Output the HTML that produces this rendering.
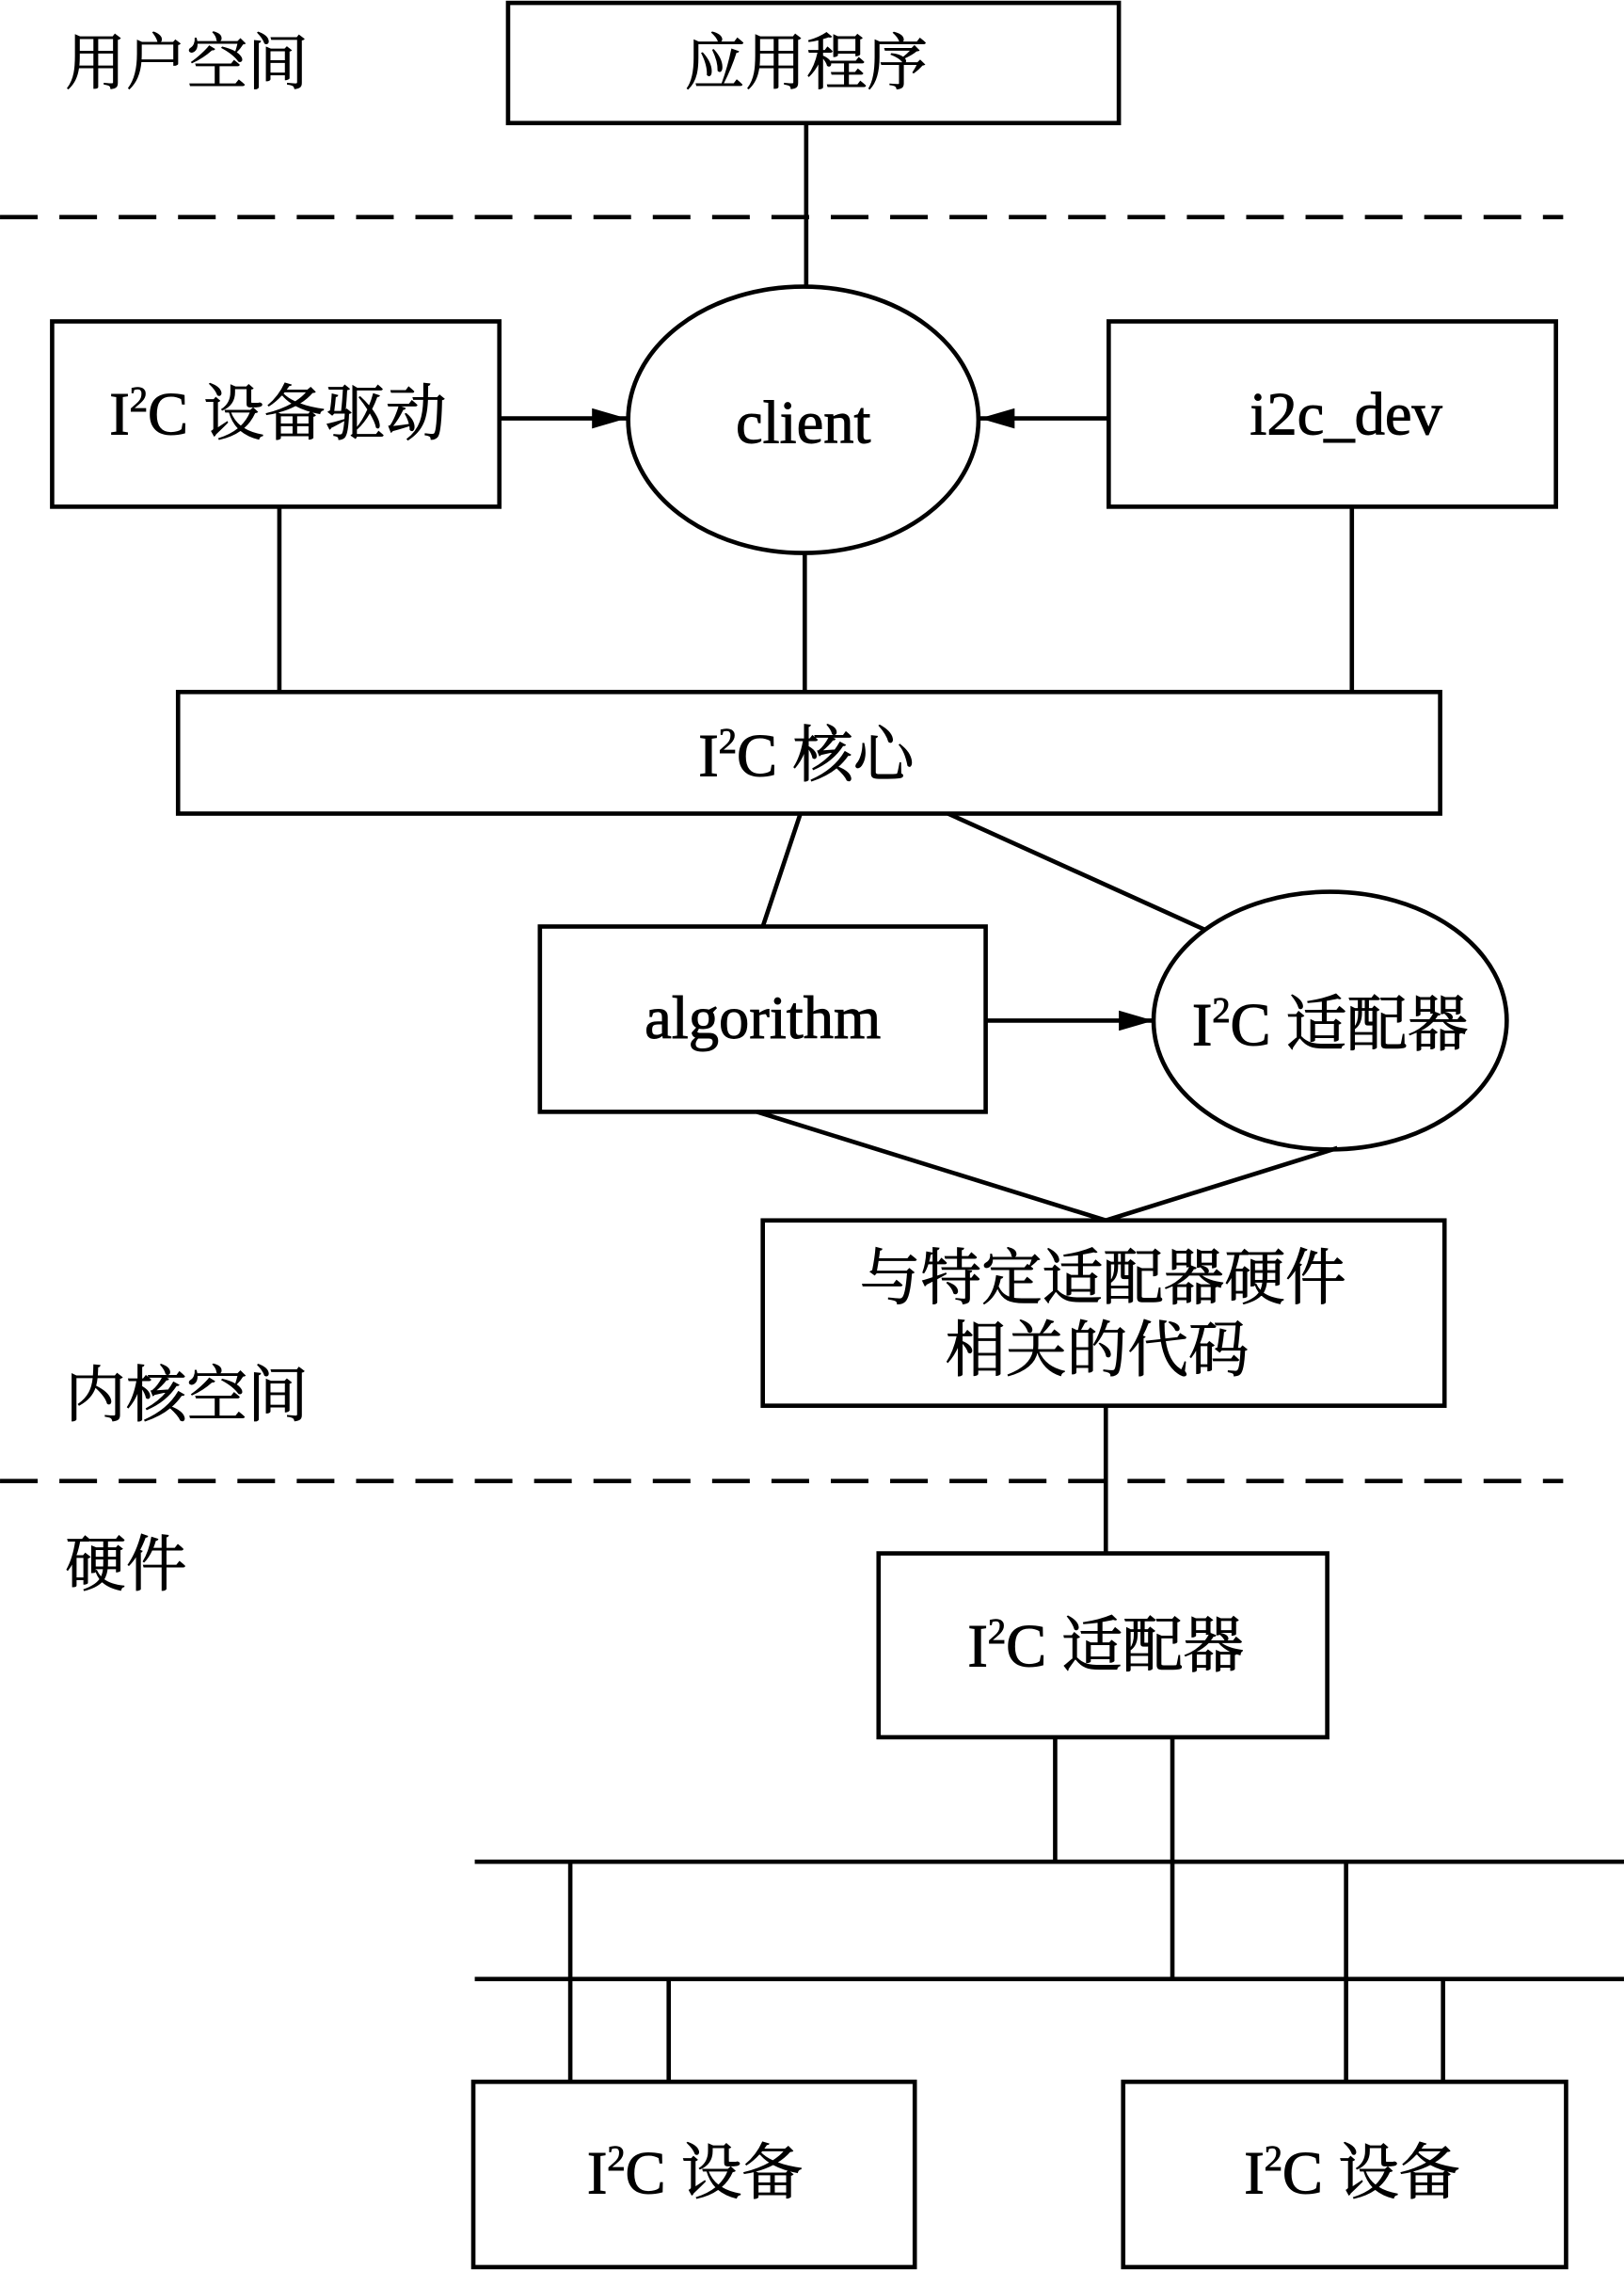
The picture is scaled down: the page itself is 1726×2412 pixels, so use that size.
<!DOCTYPE html>
<html><head><meta charset="utf-8"><style>
html,body{margin:0;padding:0;background:#fff;}
svg{display:block;}
text{font-family:"Liberation Serif","Noto Serif CJK SC",serif;font-size:42px;fill:#000;stroke:#000;stroke-width:0.6px;}
.s{font-size:25px;}
</style></head><body>
<svg width="1726" height="2412" viewBox="0 0 1122 1568" xmlns="http://www.w3.org/2000/svg">
<defs>
<marker id="b" viewBox="0 0 24 14" markerWidth="24" markerHeight="14" refX="24" refY="7" orient="auto" markerUnits="userSpaceOnUse"><path d="M0,0 L24,7 L0,14 z"/></marker></defs>
<g fill="none" stroke="#000" stroke-width="3">
<rect x="351" y="2" width="422" height="83"/>
<line x1="0" y1="150" x2="1080" y2="150" stroke-dasharray="26,15"/>
<line x1="0" y1="1023" x2="1080" y2="1023" stroke-dasharray="26,15"/>
<rect x="36" y="222" width="309" height="128"/>
<ellipse cx="555" cy="290" rx="121" ry="92"/>
<rect x="766" y="222" width="309" height="128"/>
<line x1="557" y1="85" x2="557" y2="198"/>
<line x1="345" y1="289" x2="433" y2="289" marker-end="url(#b)"/>
<line x1="766" y1="289" x2="677" y2="289" marker-end="url(#b)"/>
<line x1="193" y1="350" x2="193" y2="478"/>
<line x1="556" y1="382" x2="556" y2="478"/>
<line x1="934" y1="350" x2="934" y2="478"/>
<rect x="123" y="478" width="872" height="84"/>
<line x1="553" y1="562" x2="527" y2="640"/>
<line x1="655" y1="562" x2="832" y2="642"/>
<rect x="373" y="640" width="308" height="128"/>
<ellipse cx="919" cy="705" rx="122" ry="89"/>
<line x1="681" y1="705" x2="797" y2="705" marker-end="url(#b)"/>
<line x1="523" y1="768" x2="764" y2="843"/>
<line x1="924" y1="793" x2="764" y2="843"/>
<rect x="527" y="843" width="471" height="128"/>
<line x1="764" y1="971" x2="764" y2="1073"/>
<rect x="607" y="1073" width="310" height="127"/>
<line x1="729" y1="1200" x2="729" y2="1286"/>
<line x1="810" y1="1200" x2="810" y2="1367"/>
<line x1="328" y1="1286" x2="1122" y2="1286"/>
<line x1="328" y1="1367" x2="1122" y2="1367"/>
<line x1="394" y1="1286" x2="394" y2="1438"/>
<line x1="462" y1="1367" x2="462" y2="1438"/>
<line x1="930" y1="1286" x2="930" y2="1438"/>
<line x1="997" y1="1367" x2="997" y2="1438"/>
<rect x="327" y="1438" width="305" height="128"/>
<rect x="776" y="1438" width="306" height="128"/>
</g>
<text x="45" y="58">用户空间</text>
<text x="45" y="978">内核空间</text>
<text x="45" y="1095">硬件</text>
<text x="557" y="58" text-anchor="middle">应用程序</text>
<text x="192" y="300" text-anchor="middle">I<tspan class="s" dy="-16">2</tspan><tspan dy="16">C 设备驱动</tspan></text>
<text x="555" y="306" text-anchor="middle">client</text>
<text x="930" y="300" text-anchor="middle">i2c_dev</text>
<text x="557" y="536" text-anchor="middle">I<tspan class="s" dy="-16">2</tspan><tspan dy="16">C 核心</tspan></text>
<text x="527" y="717" text-anchor="middle">algorithm</text>
<text x="919" y="722" text-anchor="middle">I<tspan class="s" dy="-16">2</tspan><tspan dy="16">C 适配器</tspan></text>
<text x="762" y="897" text-anchor="middle">与特定适配器硬件</text>
<text x="758" y="947" text-anchor="middle">相关的代码</text>
<text x="764" y="1151" text-anchor="middle">I<tspan class="s" dy="-16">2</tspan><tspan dy="16">C 适配器</tspan></text>
<text x="480" y="1515" text-anchor="middle">I<tspan class="s" dy="-16">2</tspan><tspan dy="16">C 设备</tspan></text>
<text x="934" y="1515" text-anchor="middle">I<tspan class="s" dy="-16">2</tspan><tspan dy="16">C 设备</tspan></text>
</svg>
</body></html>
